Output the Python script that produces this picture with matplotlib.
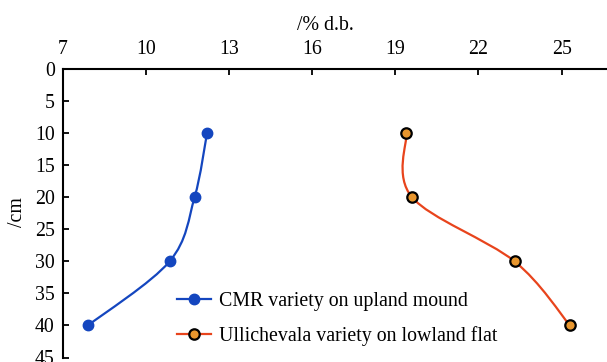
import matplotlib
matplotlib.use("Agg")
import matplotlib.pyplot as plt
from matplotlib.path import Path
from matplotlib.patches import PathPatch

plt.rcParams['font.family'] = ['Liberation Serif', 'DejaVu Serif']

# depth (cm)
depth = [10, 20, 30, 40]
# moisture content (% d.b.)
cmr = [12.2, 11.75, 10.85, 7.9]
ulli = [19.4, 19.6, 23.3, 25.3]

blue = '#1446bf'
red = '#e8441c'
orange = '#e8962e'


def smooth_path(xs, ys):
    # cubic bezier through the points (catmull-rom style, like excel smoothing)
    pts = list(zip(xs, ys))
    verts = [pts[0]]
    codes = [Path.MOVETO]
    n = len(pts)
    for i in range(n - 1):
        p0 = pts[max(i - 1, 0)]
        p1 = pts[i]
        p2 = pts[i + 1]
        p3 = pts[min(i + 2, n - 1)]
        c1 = (p1[0] + (p2[0] - p0[0]) / 6, p1[1] + (p2[1] - p0[1]) / 6)
        c2 = (p2[0] - (p3[0] - p1[0]) / 6, p2[1] - (p3[1] - p1[1]) / 6)
        verts += [c1, c2, p2]
        codes += [Path.CURVE4] * 3
    return Path(verts, codes)


fig = plt.figure(figsize=(6.07, 3.62), dpi=100)
# axes: left spine at x=63px, top at y=69px, 0-45 down to y=357px
ax = fig.add_axes([63 / 607, 1 - 357.5 / 362, 1 - 63 / 607, (357.5 - 69) / 362])

ax.add_patch(PathPatch(smooth_path(cmr, depth), facecolor='none',
                       edgecolor=blue, lw=1.6))
ax.add_patch(PathPatch(smooth_path(ulli, depth), facecolor='none',
                       edgecolor=red, lw=1.6))
ax.plot(cmr, depth, ls='none', marker='o', ms=7.5, color=blue, mec=blue)
ax.plot(ulli, depth, ls='none', marker='o', ms=7.5, mfc=orange, mec='black', mew=1.6)

# legend handles
ax.plot([], [], color=blue, lw=1.6, marker='o', ms=7.5,
        label='CMR variety on upland mound')
ax.plot([], [], color=red, lw=1.6, marker='o', ms=7.5, mfc=orange, mec='black', mew=1.6,
        label='Ullichevala variety on lowland flat')

ax.set_xlim(7, 7 + 544 / 27.7)
ax.set_ylim(45, 0)
ax.set_xticks([7, 10, 13, 16, 19, 22, 25])
ax.set_yticks(range(0, 46, 5))
ax.xaxis.tick_top()
ax.tick_params(direction='in', length=4, width=1.3, labelsize=14.3)
ax.tick_params(axis='x', pad=7)
ax.tick_params(axis='y', pad=6)
for s in ['right', 'bottom']:
    ax.spines[s].set_visible(False)
for s in ['top', 'left']:
    ax.spines[s].set_linewidth(1.5)

fig.text(325 / 607, 1 - 25 / 362, '/% d.b.', ha='center', va='center', fontsize=14.3)
fig.text(18 / 607, 1 - 212 / 362, '/cm', ha='center', va='center', rotation=90, fontsize=14.3)

fig.legend(loc='center left', bbox_to_anchor=(177 / 607, 1 - 319 / 362), frameon=False,
           fontsize=14.3, handlelength=1.7, handletextpad=0.4, labelspacing=0.75,
           borderpad=0, borderaxespad=0)

fig.savefig('out.png', dpi=100)
